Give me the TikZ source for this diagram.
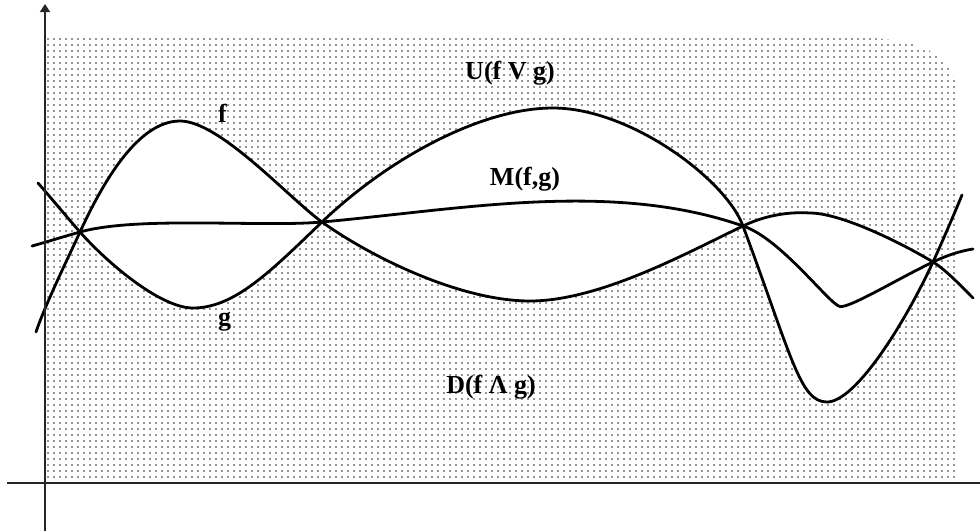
\documentclass[tikz,border=0pt]{standalone}
\usepackage{fontspec}
\setmainfont{Liberation Serif}
\usetikzlibrary{patterns.meta,arrows.meta}
\begin{document}
\begin{tikzpicture}[x=1pt,y=-1pt,
  curve/.style={line width=2.8pt, line join=round, line cap=round},
  axis/.style={line width=1.6pt, black!85},
  lab/.style={font=\fontsize{26}{30}\selectfont\bfseries, anchor=base, inner sep=0pt},
  dotted area/.style={pattern={Dots[distance=6pt,radius=0.9pt]}, pattern color=black!85}]
\useasboundingbox (0,0) rectangle (980,531);
% crossing points and curve ends
\coordinate (C1) at (80,232);
\coordinate (C2) at (322,222);
\coordinate (C3) at (743,226);
\coordinate (C4) at (933,262);
\coordinate (As) at (36,332);
\coordinate (Ae) at (973,298);
\coordinate (Bs) at (38,183);
\coordinate (Be) at (962,195);
\coordinate (Ms) at (32,246);
\coordinate (Me) at (973,249);
\coordinate (Ya) at (45,531);
\coordinate (Yb) at (45,4);
\coordinate (Xa) at (7,483);
\coordinate (Xb) at (980,483);
% dotted background
\fill[dotted area] (45,38) -- (860,38) .. controls (930,38) and (958,60) .. (958,100) -- (958,481) -- (45,481) -- cycle;
% white lenses between the two curves
\fill[white] (C1) .. controls (103,182) and (138,121) .. (180,121) .. controls (220,121) and (289.6,198.8) .. (C2)
  .. controls (271.6,270.3) and (235,308) .. (193,308) .. controls (160,308) and (106.4,262) .. (C1) -- cycle;
\fill[white] (C2) .. controls (386.8,159.9) and (480,108) .. (553,108) .. controls (630,108) and (725.5,179) .. (C3)
  .. controls (689,251.8) and (600,301) .. (530,301) .. controls (460,301) and (370.6,256.8) .. (C2) -- cycle;
\fill[white] (C3) .. controls (770,213) and (795,212) .. (810,213) .. controls (840,213) and (898.7,241.4) .. (C4)
  .. controls (903.6,325.7) and (855,402) .. (827,402) .. controls (800,402) and (792,357.6) .. (C3) -- cycle;
% curves
\draw[curve] (As) .. controls (45,305) and (69.6,254.7) .. (C1)
  .. controls (103,182) and (138,121) .. (180,121)
  .. controls (220,121) and (289.6,198.8) .. (C2)
  .. controls (370.6,256.8) and (460,301) .. (530,301)
  .. controls (600,301) and (689,251.8) .. (C3)
  .. controls (770,213) and (795,212) .. (810,213)
  .. controls (840,213) and (898.7,241.4) .. (C4)
  .. controls (946,270) and (960,285) .. (Ae);
\draw[curve] (Bs) .. controls (52,199) and (66.8,217) .. (C1)
  .. controls (106.4,262) and (160,308) .. (193,308)
  .. controls (235,308) and (271.6,270.3) .. (C2)
  .. controls (386.8,159.9) and (480,108) .. (553,108)
  .. controls (630,108) and (725.5,179) .. (C3)
  .. controls (792,357.6) and (800,402) .. (827,402)
  .. controls (855,402) and (903.6,325.7) .. (C4)
  .. controls (943.5,239) and (955,212) .. (Be);
\draw[curve] (Ms) .. controls (50,241) and (65.6,236) .. (C1)
  .. controls (137.6,215.8) and (262,227.4) .. (C2)
  .. controls (461,209.4) and (611.4,180) .. (C3)
  .. controls (780.6,238.2) and (830,305) .. (840,306.5)
  .. controls (850,308) and (897,279.2) .. (C4)
  .. controls (946.5,255.5) and (960,251) .. (Me);
% axes
\draw[axis] (Xa) -- (Xb);
\draw[axis, -{Triangle[width=10pt,length=8pt]}] (Ya) -- (Yb);
% labels
\node[lab] (lU) at (510,79) {U(f V g)};
\node[lab] (lD) at (491,393) {D(f Λ g)};
\node[lab] (lM) at (525,185) {M(f,g)};
\node[lab] (lf) at (222.5,122) {f};
\node[lab] (lg) at (224.5,325) {g};
\end{tikzpicture}
\end{document}
